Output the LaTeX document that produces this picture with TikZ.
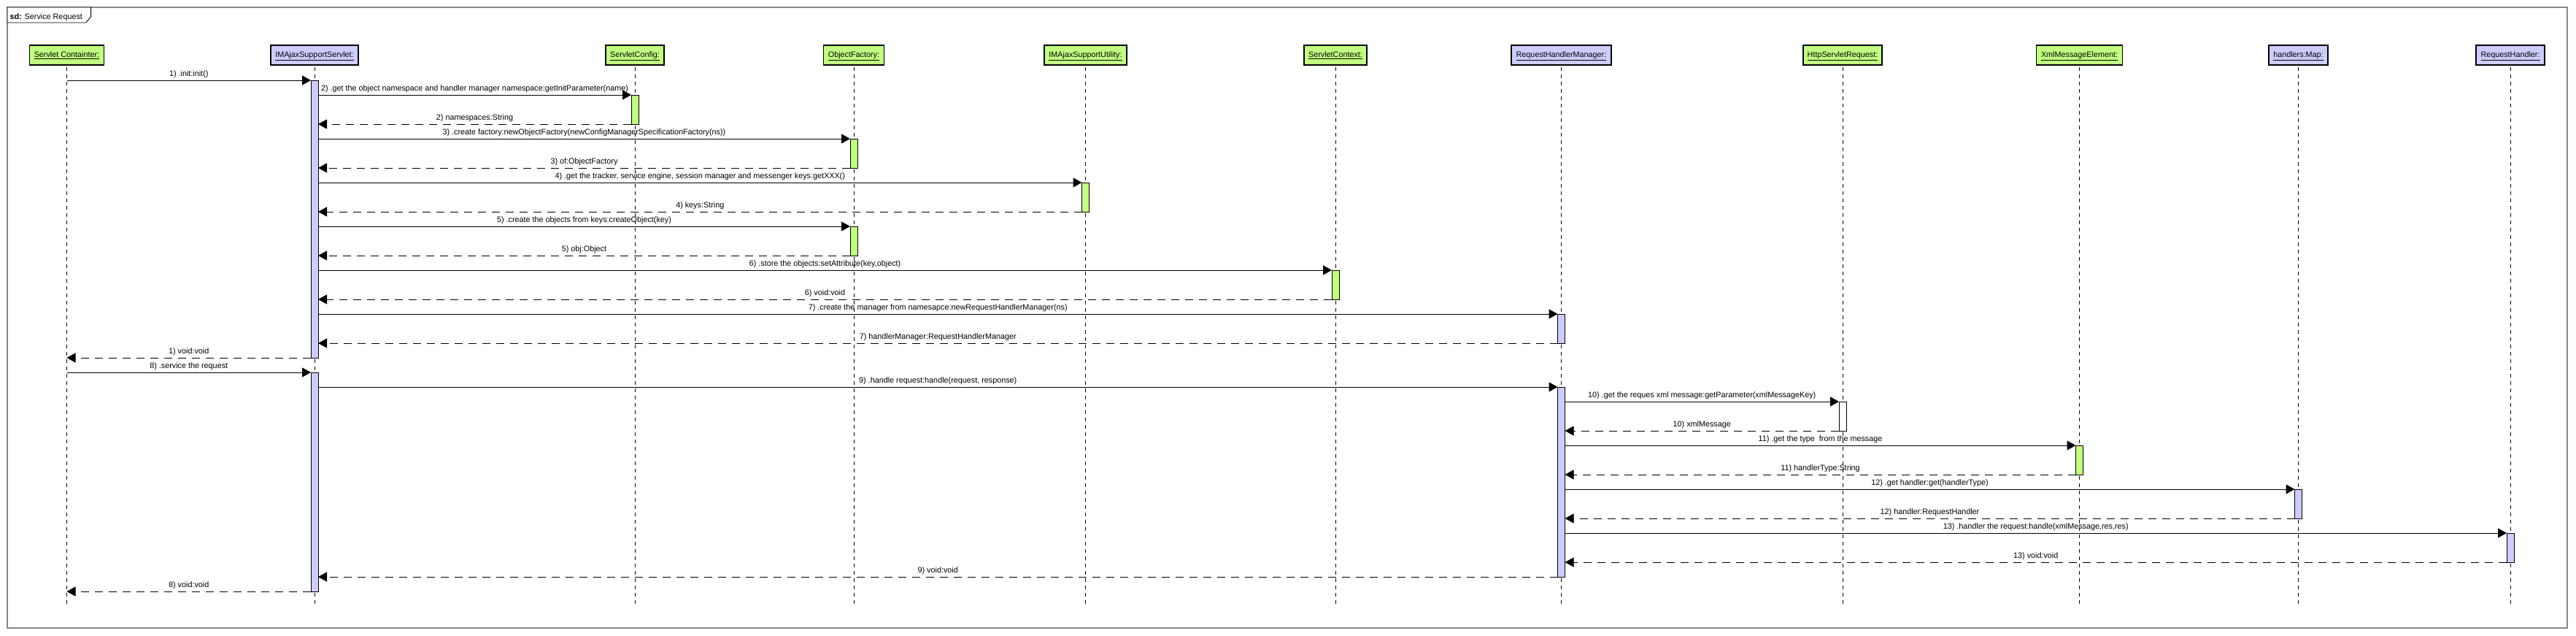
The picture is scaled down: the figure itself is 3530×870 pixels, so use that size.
\documentclass[tikz,border=0pt]{standalone}
\usepackage{fontspec}
\setmainfont{Liberation Sans}
\usetikzlibrary{arrows.meta}
\definecolor{actgreen}{RGB}{192,255,128}
\definecolor{actblue}{RGB}{204,204,255}
\definecolor{framegray}{RGB}{136,136,136}
\begin{document}
\begin{tikzpicture}[x=1pt,y=-1pt,
  font=\fontsize{10.8}{12}\selectfont,
  head/.style={draw=black, line width=1.1pt, minimum height=27pt, inner sep=0pt, outer sep=0pt, anchor=north, text height=8pt, text depth=2.5pt},
  lifeline/.style={draw=black, line width=0.9pt, dash pattern=on 5pt off 5pt},
  actbar/.style={draw=black, line width=0.8pt, minimum width=10pt, inner sep=0pt, outer sep=0pt, anchor=north},
  call/.style={draw=black, line width=1pt, -{Triangle[length=12pt,width=13pt]}},
  ret/.style={draw=black, line width=1pt, dash pattern=on 11pt off 8pt, -{Triangle[length=12pt,width=13pt]}},
  lbl/.style={anchor=base, inner sep=0pt, yshift=6pt}
]
\useasboundingbox[fill=white] (0,0) rectangle (3530,870);
% frame
\draw[framegray, line width=1.5pt] (10,10) rectangle (3518,860);
\draw[fill=white, line width=0.9pt] (10,10) -- (124.6,10) -- (124.6,23) -- (117.7,31) -- (10,31) -- cycle;
\node[anchor=base west, inner sep=0pt] (sdlabel) at (13.3,26) {\textbf{sd:} Service Request};

% lifeline heads
\node[head, fill=actgreen, minimum width=102pt] (h1) at (91.5,62) {\underline{Servlet Containter:}};
\node[head, fill=actblue, minimum width=120pt] (h2) at (431,62) {\underline{IMAjaxSupportServlet:}};
\node[head, fill=actgreen, minimum width=80pt] (h3) at (870,62) {\underline{ServletConfig:}};
\node[head, fill=actgreen, minimum width=83pt] (h4) at (1170,62) {\underline{ObjectFactory:}};
\node[head, fill=actgreen, minimum width=113pt] (h5) at (1487.5,62) {\underline{IMAjaxSupportUtility:}};
\node[head, fill=actgreen, minimum width=86pt] (h6) at (1830,62) {\underline{ServletContext:}};
\node[head, fill=actblue, minimum width=137pt] (h7) at (2139.5,62) {\underline{RequestHandlerManager:}};
\node[head, fill=actgreen, minimum width=108pt] (h8) at (2525,62) {\underline{HttpServletRequest:}};
\node[head, fill=actgreen, minimum width=118pt] (h9) at (2849.5,62) {\underline{XmlMessageElement:}};
\node[head, fill=actblue, minimum width=81pt] (h10) at (3149.5,62) {\underline{handlers:Map:}};
\node[head, fill=actblue, minimum width=94pt] (h11) at (3440,62) {\underline{RequestHandler:}};

% lifelines
\coordinate (llend) at (0,827);
\foreach \h in {h1,h2,h3,h4,h5,h6,h7,h8,h9,h10,h11}
  \draw[lifeline] ([yshift=-3pt]\h.south) -- (\h.south |- llend);

% activation bars
\node[actbar, fill=actblue, minimum height=380pt] (a1) at (431,110) {};
\node[actbar, fill=actblue, minimum height=300pt] (a2) at (431,510) {};
\node[actbar, fill=actgreen, minimum height=40pt] (b2) at (870,130) {};
\node[actbar, fill=actgreen, minimum height=40pt] (b3) at (1170,190) {};
\node[actbar, fill=actgreen, minimum height=40pt] (b4) at (1487.5,250) {};
\node[actbar, fill=actgreen, minimum height=40pt] (b5) at (1170,310) {};
\node[actbar, fill=actgreen, minimum height=40pt] (b6) at (1830,370) {};
\node[actbar, fill=actblue, minimum height=40pt] (b7) at (2139.5,430) {};
\node[actbar, fill=actblue, minimum height=260pt] (b9) at (2139.5,530) {};
\node[actbar, fill=white, minimum height=40pt] (b10) at (2525,550) {};
\node[actbar, fill=actgreen, minimum height=40pt] (b11) at (2849.5,610) {};
\node[actbar, fill=actblue, minimum height=40pt] (b12) at (3149.5,670) {};
\node[actbar, fill=actblue, minimum height=40pt] (b13) at (3440,730) {};

% messages
\draw[call] (h1 |- a1.north) -- (a1.north west) node[midway,lbl] (m1) {1) .init:init()};
\draw[call] (a1.east |- b2.north) -- (b2.north west) node[midway,lbl] (m2) {2) .get the object namespace and handler manager namespace:getInitParameter(name)};
\draw[ret] (b2.south west) -- (a1.east |- b2.south) node[midway,lbl] (r2) {2) namespaces:String};
\draw[call] (a1.east |- b3.north) -- (b3.north west) node[midway,lbl] (m3) {3) .create factory:newObjectFactory(newConfigManagerSpecificationFactory(ns))};
\draw[ret] (b3.south west) -- (a1.east |- b3.south) node[midway,lbl] (r3) {3) of:ObjectFactory};
\draw[call] (a1.east |- b4.north) -- (b4.north west) node[midway,lbl] (m4) {4) .get the tracker, service engine, session manager and messenger keys:getXXX()};
\draw[ret] (b4.south west) -- (a1.east |- b4.south) node[midway,lbl] (r4) {4) keys:String};
\draw[call] (a1.east |- b5.north) -- (b5.north west) node[midway,lbl] (m5) {5) .create the objects from keys:createObject(key)};
\draw[ret] (b5.south west) -- (a1.east |- b5.south) node[midway,lbl] (r5) {5) obj:Object};
\draw[call] (a1.east |- b6.north) -- (b6.north west) node[midway,lbl] (m6) {6) .store the objects:setAttribute(key,object)};
\draw[ret] (b6.south west) -- (a1.east |- b6.south) node[midway,lbl] (r6) {6) void:void};
\draw[call] (a1.east |- b7.north) -- (b7.north west) node[midway,lbl] (m7) {7) .create the manager from namesapce:newRequestHandlerManager(ns)};
\draw[ret] (b7.south west) -- (a1.east |- b7.south) node[midway,lbl] (r7) {7) handlerManager:RequestHandlerManager};
\draw[ret] (a1.south west) -- (h1 |- a1.south) node[midway,lbl] (r1) {1) void:void};
\draw[call] (h1 |- a2.north) -- (a2.north west) node[midway,lbl] (m8) {8) .service the request};
\draw[call] (a2.east |- b9.north) -- (b9.north west) node[midway,lbl] (m9) {9) .handle request:handle(request, response)};
\draw[call] (b9.east |- b10.north) -- (b10.north west) node[midway,lbl] (m10) {10) .get the reques xml message:getParameter(xmlMessageKey)};
\draw[ret] (b10.south west) -- (b9.east |- b10.south) node[midway,lbl] (r10) {10) xmlMessage};
\draw[call] (b9.east |- b11.north) -- (b11.north west) node[midway,lbl] (m11) {11) .get the type\ \ from the message};
\draw[ret] (b11.south west) -- (b9.east |- b11.south) node[midway,lbl] (r11) {11) handlerType:String};
\draw[call] (b9.east |- b12.north) -- (b12.north west) node[midway,lbl] (m12) {12) .get handler:get(handlerType)};
\draw[ret] (b12.south west) -- (b9.east |- b12.south) node[midway,lbl] (r12) {12) handler:RequestHandler};
\draw[call] (b9.east |- b13.north) -- (b13.north west) node[midway,lbl] (m13) {13) .handler the request:handle(xmlMessage,res,res)};
\draw[ret] (b13.south west) -- (b9.east |- b13.south) node[midway,lbl] (r13) {13) void:void};
\draw[ret] (b9.south west) -- (a2.east |- b9.south) node[midway,lbl] (r9) {9) void:void};
\draw[ret] (a2.south west) -- (h1 |- a2.south) node[midway,lbl] (r8) {8) void:void};
\end{tikzpicture}
\end{document}
